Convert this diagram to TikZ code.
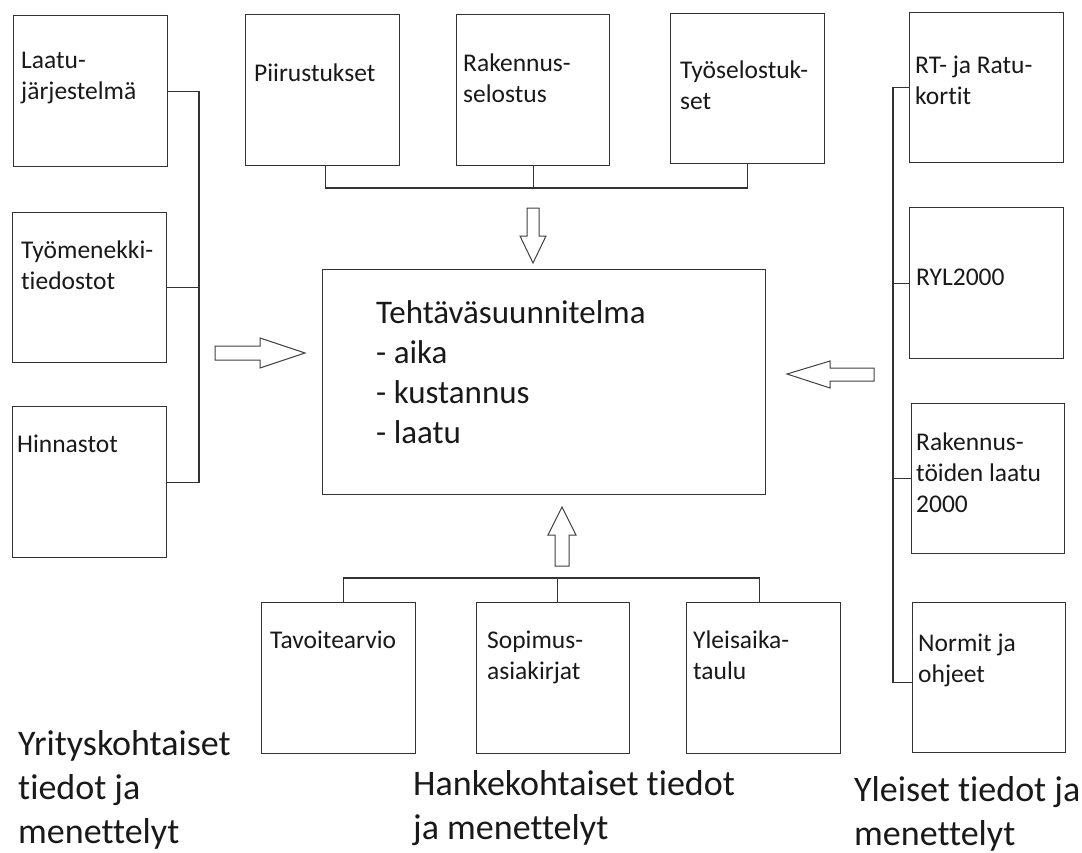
\documentclass[tikz,border=0pt]{standalone}
\usepackage{fontspec}
\setmainfont{Carlito}[Ligatures=NoCommon]
\begin{document}
\begin{tikzpicture}[x=1pt,y=-1pt,
  box/.style={draw=black!80, line width=1.3pt, rectangle, inner sep=0pt, anchor=north west},
  lbl/.style={anchor=base west, align=left, inner sep=0pt, text=black!90, font=\fontsize{25.5}{31}\selectfont},
  big/.style={anchor=base west, align=left, inner sep=0pt, text=black!90, font=\fontsize{36}{44}\selectfont},
  conn/.style={draw=black!80, line width=1.3pt},
  blk/.style={draw=black!75, line width=1pt, fill=white, line join=miter},
]
\useasboundingbox (0,0) rectangle (1082,852);

% left column (text nodes are placed at the baseline of their last line)
\node[box, minimum width=154, minimum height=151] (L1) at (13,15) {};
\node[box, minimum width=154, minimum height=150] (L2) at (12,212) {};
\node[box, minimum width=154, minimum height=151] (L3) at (12,406) {};
\node[lbl] (L1t) at (21,99) {Laatu-\\järjestelmä};
\node[lbl] (L2t) at (21,289) {Työmenekki-\\tiedostot};
\node[lbl] (L3t) at (17,452) {Hinnastot};

% top row
\node[box, minimum width=154, minimum height=151] (T1) at (245,14) {};
\node[box, minimum width=153, minimum height=151] (T2) at (456,14) {};
\node[box, minimum width=154, minimum height=150] (T3) at (670,13) {};
\node[lbl] (T1t) at (254,81) {Piirustukset};
\node[lbl] (T2t) at (463,102) {Rakennus-\\selostus};
\node[lbl] (T3t) at (680,109) {Työselostuk-\\set};

% centre
\node[box, minimum width=443, minimum height=225] (C) at (322,269) {};
\node[lbl, font=\fontsize{33}{40}\selectfont] (Ct) at (376,443) {Tehtäväsuunnitelma\\- aika\\- kustannus\\- laatu};

% right column
\node[box, minimum width=154, minimum height=150] (R1) at (909,12) {};
\node[box, minimum width=154, minimum height=151] (R2) at (909,207) {};
\node[box, minimum width=153, minimum height=150] (R3) at (911,403) {};
\node[box, minimum width=153, minimum height=150] (R4) at (912,602) {};
\node[lbl] (R1t) at (915,104) {RT- ja Ratu-\\kortit};
\node[lbl] (R2t) at (916,285) {RYL2000};
\node[lbl] (R3t) at (916,512) {Rakennus-\\töiden laatu\\2000};
\node[lbl] (R4t) at (918,682) {Normit ja\\ohjeet};

% bottom row
\node[box, minimum width=154, minimum height=151] (B1) at (261,602) {};
\node[box, minimum width=153, minimum height=151] (B2) at (476,602) {};
\node[box, minimum width=154, minimum height=151] (B3) at (686,602) {};
\node[lbl] (B1t) at (270,648) {Tavoitearvio};
\node[lbl] (B2t) at (487,679) {Sopimus-\\asiakirjat};
\node[lbl] (B3t) at (693,679) {Yleisaika-\\taulu};

% group captions
\node[big] (Y1) at (18,843) {Yrityskohtaiset\\tiedot ja\\menettelyt};
\node[big] (Y2) at (413,839) {Hankekohtaiset tiedot\\ja menettelyt};
\node[big] (Y3) at (854,845) {Yleiset tiedot ja\\menettelyt};

% connectors
\coordinate (lbus) at (199,0);
\coordinate (tbus) at (0,188);
\coordinate (bbus) at (0,578);
\coordinate (rbus) at (893,0);

\draw[conn] (L1.east) -- (L1.east -| lbus) -- (L3.east -| lbus) -- (L3.east);
\draw[conn] (L2.east) -- (L2.east -| lbus);

\draw[conn] ([xshift=3]T1.south) -- ([xshift=3]T1.south |- tbus) -- (T3.south |- tbus) -- (T3.south);
\draw[conn] (T2.south) -- (T2.south |- tbus);

\draw[conn] ([xshift=5]B1.north) -- ([xshift=5]B1.north |- bbus) -- ([xshift=-4]B3.north |- bbus) -- ([xshift=-4]B3.north);
\draw[conn] ([xshift=4]B2.north) -- ([xshift=4]B2.north |- bbus);

\draw[conn] (R1.west) -- (R1.west -| rbus) -- ([yshift=-5]R4.west -| rbus) -- ([yshift=-5]R4.west);
\draw[conn] (R2.west) -- (R2.west -| rbus);
\draw[conn] (R3.west) -- (R3.west -| rbus);

% block arrows
\draw[blk] (215,346) -- (260,346) -- (260,338) -- (305,353) -- (260,368) -- (260,360) -- (215,360) -- cycle;
\draw[blk] (874,368) -- (830,368) -- (830,361) -- (787,374) -- (830,388) -- (830,381) -- (874,381) -- cycle;
\draw[blk] (527,208) -- (539,208) -- (539,236) -- (546,236) -- (533,263) -- (520,236) -- (527,236) -- cycle;
\draw[blk] (555,566) -- (569,566) -- (569,535) -- (576,535) -- (562,507) -- (548,535) -- (555,535) -- cycle;
\end{tikzpicture}
\end{document}
